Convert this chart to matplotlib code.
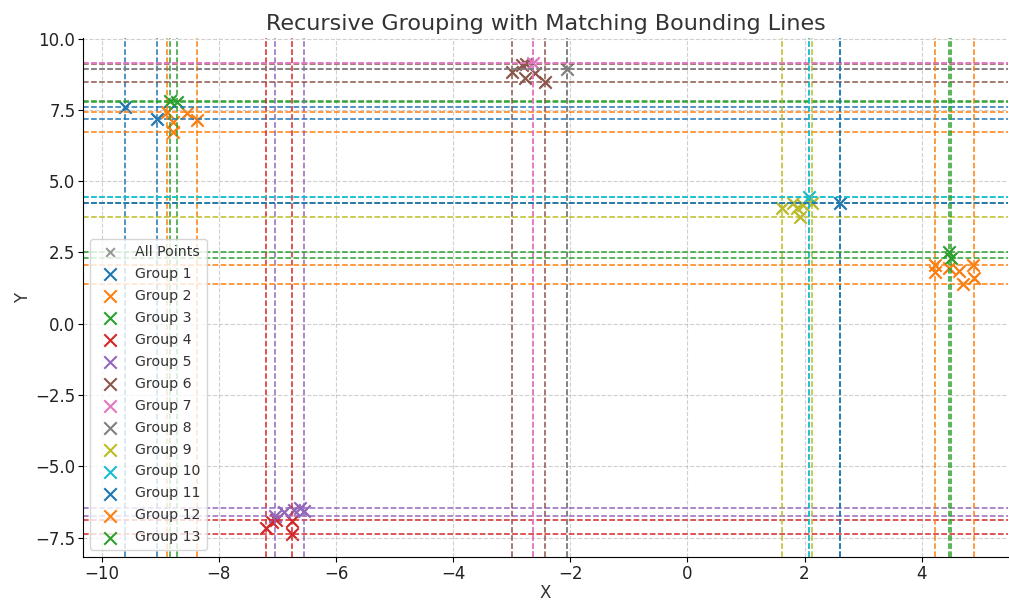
import matplotlib
matplotlib.use("Agg")
import matplotlib.pyplot as plt
import numpy as np

group_names = ["Group 1", "Group 2", "Group 3", "Group 4", "Group 5", "Group 6", "Group 7",
               "Group 8", "Group 9", "Group 10", "Group 11", "Group 12", "Group 13"]

g1_x = [-9.60, -9.05]
g1_y = [7.61, 7.19]
g2_x = [-8.88, -8.78, -8.78, -8.55, -8.37]
g2_y = [7.42, 7.06, 6.74, 7.40, 7.16]
g3_x = [-8.83, -8.72]
g3_y = [7.80, 7.76]
g4_x = [-7.19, -7.09, -7.02, -6.76, -6.76]
g4_y = [-7.16, -6.94, -6.88, -6.92, -7.37]
g5_x = [-7.05, -6.88, -6.72, -6.62, -6.54]
g5_y = [-6.73, -6.60, -6.52, -6.45, -6.55]
g6_x = [-3.00, -2.82, -2.75, -2.77, -2.60, -2.43]
g6_y = [8.83, 9.08, 9.12, 8.62, 8.80, 8.46]
g7_x = [-2.63]
g7_y = [9.15]
g8_x = [-2.05]
g8_y = [8.94]
g9_x = [1.62, 1.80, 1.88, 1.92, 1.97, 2.12]
g9_y = [4.06, 4.23, 4.05, 3.74, 4.18, 4.22]
g10_x = [2.07]
g10_y = [4.43]
g11_x = [2.60]
g11_y = [4.24]
g12_x = [4.23, 4.22, 4.46, 4.63, 4.71, 4.87, 4.90]
g12_y = [2.07, 1.82, 1.96, 1.86, 1.40, 2.07, 1.61]
g13_x = [4.47, 4.50]
g13_y = [2.52, 2.30]

groups_x = [g1_x, g2_x, g3_x, g4_x, g5_x, g6_x, g7_x, g8_x, g9_x, g10_x, g11_x, g12_x, g13_x]
groups_y = [g1_y, g2_y, g3_y, g4_y, g5_y, g6_y, g7_y, g8_y, g9_y, g10_y, g11_y, g12_y, g13_y]

x_ticks = [-10, -8, -6, -4, -2, 0, 2, 4]
y_ticks = [-7.5, -5.0, -2.5, 0.0, 2.5, 5.0, 7.5, 10.0]

plt.rcParams['text.color'] = '#333333'
plt.rcParams['axes.labelcolor'] = '#333333'
plt.rcParams['xtick.labelcolor'] = '#222222'
plt.rcParams['ytick.labelcolor'] = '#222222'

colors = plt.rcParams['axes.prop_cycle'].by_key()['color']

fig = plt.figure(figsize=(10.09, 6.01), dpi=100)
ax = fig.add_axes([0.0823, 0.0732, 0.917, 0.8636])

all_x = np.concatenate([np.array(g) for g in groups_x])
all_y = np.concatenate([np.array(g) for g in groups_y])
ax.scatter(all_x, all_y, marker='x', color='gray', s=40, alpha=0.8, linewidths=1.5, label='All Points')

for i, (gx, gy, name) in enumerate(zip(groups_x, groups_y, group_names)):
    c = colors[i % len(colors)]
    ax.scatter(gx, gy, marker='x', color=c, s=80, linewidths=1.5, label=name)
    ax.axvline(min(gx), color=c, linestyle='--', linewidth=1.1)
    ax.axvline(max(gx), color=c, linestyle='--', linewidth=1.1)
    ax.axhline(min(gy), color=c, linestyle='--', linewidth=1.1)
    ax.axhline(max(gy), color=c, linestyle='--', linewidth=1.1)

ax.set_xlim(-10.32, 5.48)
ax.set_ylim(-8.18, 10.02)
ax.set_xticks(x_ticks)
ax.set_yticks(y_ticks)
ax.tick_params(labelsize=12, length=3.5, pad=2)
ax.set_title("Recursive Grouping with Matching Bounding Lines", fontsize=16, pad=6)
ax.set_xlabel("X", fontsize=12, labelpad=1)
ax.set_ylabel("Y", fontsize=12, labelpad=2)
ax.grid(True, linestyle='--', alpha=0.6)
ax.spines['top'].set_visible(False)
ax.spines['right'].set_visible(False)
ax.legend(loc='lower left', fontsize=10.2, labelspacing=0.56)

fig.savefig("out.png", dpi=100)
